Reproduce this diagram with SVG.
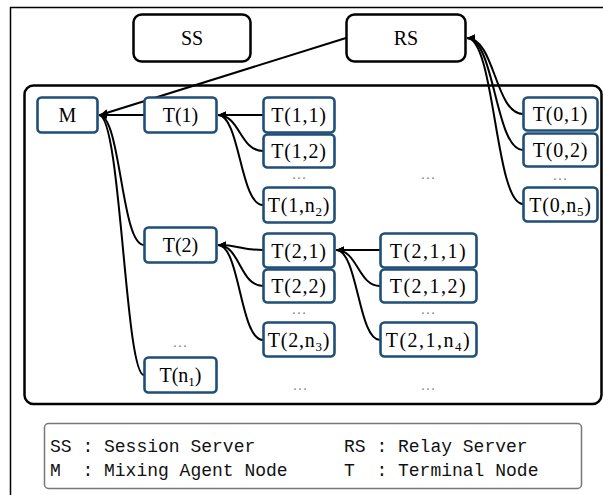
<svg xmlns="http://www.w3.org/2000/svg" width="603" height="495" viewBox="0 0 603 495">
<style>
.srv{fill:#fff;stroke:#000;stroke-width:2.5}
.nd{fill:#fff;stroke:#1f4e79;stroke-width:2.6}
.t{font-family:"Liberation Serif","Times New Roman",serif;font-size:20px;fill:#000;text-anchor:middle}
.c1{letter-spacing:0.8px}
.c2{letter-spacing:1.5px}
.sub{font-size:13px}
.dots{font-family:"Liberation Serif",serif;font-size:15px;fill:#888;text-anchor:middle}
.cn{fill:none;stroke:#000;stroke-width:2}
.lg{font-family:"Liberation Mono","DejaVu Sans Mono",monospace;font-size:18px;fill:#111}
</style>
<defs>
<marker id="ah" markerUnits="userSpaceOnUse" markerWidth="9" markerHeight="8" refX="8" refY="4" orient="auto">
<path d="M0,0.5 L8,4 L0,7.5 z" fill="#000"/>
</marker>
</defs>
<rect width="603" height="495" fill="#fff"/>
<path d="M10.5,495 V7.5 H603" fill="none" stroke="#000" stroke-width="1.5"/>
<rect x="24.5" y="85.5" width="577" height="318.5" rx="9" fill="none" stroke="#000" stroke-width="2.5"/>

<g id="connectors">
<path class="cn" d="M346,38 L100,115" marker-end="url(#ah)"/>
<path class="cn" d="M144,115 L99,115" marker-end="url(#ah)"/>
<path class="cn" d="M144,245 C121,245 121,115 99,115" marker-end="url(#ah)"/>
<path class="cn" d="M144,375 C125,375 121,115 99,115" marker-end="url(#ah)"/>
<path class="cn" d="M263,115 L218,115" marker-end="url(#ah)"/>
<path class="cn" d="M263,151 C240,151 240,115 218,115" marker-end="url(#ah)"/>
<path class="cn" d="M263,205 C240,205 240,115 218,115" marker-end="url(#ah)"/>
<path class="cn" d="M263,250 C240,250 240,245 218,245" marker-end="url(#ah)"/>
<path class="cn" d="M263,286 C240,286 240,245 218,245" marker-end="url(#ah)"/>
<path class="cn" d="M263,340 C240,340 240,245 218,245" marker-end="url(#ah)"/>
<path class="cn" d="M380,250 L336,250" marker-end="url(#ah)"/>
<path class="cn" d="M380,286 C358,286 358,250 336,250" marker-end="url(#ah)"/>
<path class="cn" d="M380,340 C358,340 358,250 336,250" marker-end="url(#ah)"/>
<path class="cn" d="M523,114 C495,114 495,38 467,38" marker-end="url(#ah)"/>
<path class="cn" d="M523,150 C495,150 495,38 467,38" marker-end="url(#ah)"/>
<path class="cn" d="M523,204 C495,204 495,38 467,38" marker-end="url(#ah)"/>
</g>

<g id="SS"><rect class="srv" x="133.5" y="14.5" width="117" height="47" rx="8"/><text class="t" x="192" y="45">SS</text></g>
<g id="RS"><rect class="srv" x="346.5" y="14.5" width="119" height="47" rx="8"/><text class="t" x="406" y="45">RS</text></g>

<g id="M"><rect class="nd" x="37.5" y="97.5" width="60" height="35" rx="4"/><text class="t" x="67.5" y="122">M</text></g>
<g id="T1"><rect class="nd" x="144.5" y="97.5" width="72" height="35" rx="4"/><text class="t" x="180.5" y="122">T(1)</text></g>
<g id="T2"><rect class="nd" x="144.5" y="227.5" width="72" height="35" rx="4"/><text class="t" x="180.5" y="252">T(2)</text></g>
<g id="Tn1"><rect class="nd" x="144.5" y="357.5" width="72" height="35" rx="4"/><text class="t" x="180.5" y="382">T(n<tspan class="sub" dy="4">1</tspan><tspan dy="-4">)</tspan></text></g>

<g id="T11"><rect class="nd" x="263.5" y="97.5" width="71" height="35" rx="4"/><text class="t c1" x="299" y="122">T(1,1)</text></g>
<g id="T12"><rect class="nd" x="263.5" y="134.5" width="71" height="33" rx="4"/><text class="t c1" x="299" y="158">T(1,2)</text></g>
<g id="T1n2"><rect class="nd" x="263.5" y="187.5" width="71" height="35" rx="4"/><text class="t c1" x="299" y="212">T(1,n<tspan class="sub" dy="4">2</tspan><tspan dy="-4">)</tspan></text></g>

<g id="T21"><rect class="nd" x="263.5" y="233.5" width="71" height="34" rx="4"/><text class="t c1" x="299" y="257.5">T(2,1)</text></g>
<g id="T22"><rect class="nd" x="263.5" y="269.5" width="71" height="33" rx="4"/><text class="t c1" x="299" y="293">T(2,2)</text></g>
<g id="T2n3"><rect class="nd" x="263.5" y="322.5" width="71" height="34" rx="4"/><text class="t c1" x="299" y="347">T(2,n<tspan class="sub" dy="4">3</tspan><tspan dy="-4">)</tspan></text></g>

<g id="T211"><rect class="nd" x="380.5" y="233.5" width="96" height="34" rx="4"/><text class="t c2" x="428.5" y="257.5">T(2,1,1)</text></g>
<g id="T212"><rect class="nd" x="380.5" y="269.5" width="96" height="33" rx="4"/><text class="t c2" x="428.5" y="293">T(2,1,2)</text></g>
<g id="T21n4"><rect class="nd" x="380.5" y="322.5" width="96" height="34" rx="4"/><text class="t c2" x="428.5" y="347">T(2,1,n<tspan class="sub" dy="4">4</tspan><tspan dy="-4">)</tspan></text></g>

<g id="T01"><rect class="nd" x="523.5" y="97.5" width="74" height="33" rx="4"/><text class="t c1" x="560.5" y="121">T(0,1)</text></g>
<g id="T02"><rect class="nd" x="523.5" y="133.5" width="74" height="33" rx="4"/><text class="t c1" x="560.5" y="157">T(0,2)</text></g>
<g id="T0n5"><rect class="nd" x="523.5" y="187.5" width="74" height="34" rx="4"/><text class="t c1" x="560.5" y="211.5">T(0,n<tspan class="sub" dy="4">5</tspan><tspan dy="-4">)</tspan></text></g>

<g id="dots">
<text class="dots" x="299" y="179">…</text>
<text class="dots" x="428" y="179">…</text>
<text class="dots" x="560" y="180">…</text>
<text class="dots" x="180" y="347">…</text>
<text class="dots" x="299" y="314">…</text>
<text class="dots" x="428" y="314">…</text>
<text class="dots" x="300" y="390">…</text>
<text class="dots" x="428" y="390">…</text>
</g>

<g id="legend">
<rect x="44.5" y="423.5" width="537" height="65" rx="4" fill="#fff" stroke="#777" stroke-width="1.5"/>
<text class="lg" x="50" y="452" xml:space="preserve">SS : Session Server</text>
<text class="lg" x="344" y="452" xml:space="preserve">RS : Relay Server</text>
<text class="lg" x="50" y="476" xml:space="preserve">M  : Mixing Agent Node</text>
<text class="lg" x="344" y="476" xml:space="preserve">T  : Terminal Node</text>
</g>
</svg>
